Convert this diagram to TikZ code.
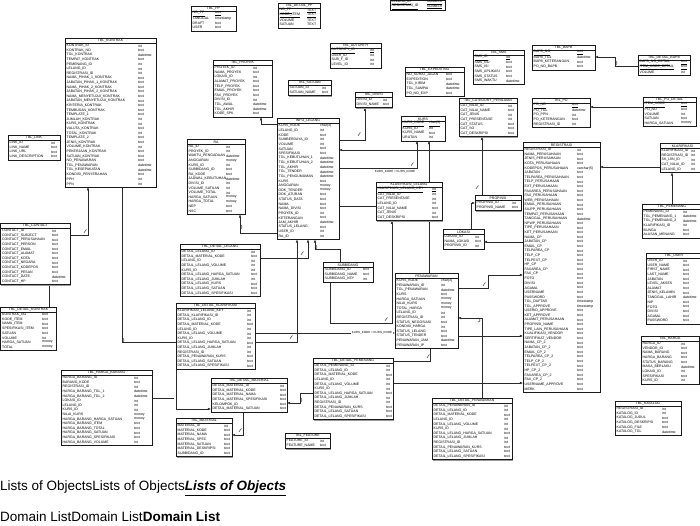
\documentclass[tikz,border=0pt]{standalone}
\usepackage{fontspec}
\setmainfont{Liberation Sans}
\setsansfont{Liberation Sans}
\usetikzlibrary{arrows.meta, calc, positioning}
\pgfdeclarelayer{background}
\pgfsetlayers{background,main}
\definecolor{FrameInk}{HTML}{1a1a1a}
\definecolor{ShadowGrey}{HTML}{9a9a9a}
\definecolor{LinkInk}{HTML}{2a2a2a}
\catcode`\_=12
\newcommand{\rowh}{4.6}
\newcommand{\pk}[1]{\underline{#1}}
\tikzset{
  fieldtext/.style={anchor=west, inner sep=0pt, font=\fontsize{3.5}{4}\selectfont},
  titletext/.style={inner sep=0pt, font=\fontsize{3.5}{4}\selectfont},
  tblframe/.style={draw=FrameInk, fill=white, line width=0.6pt, inner sep=0pt, outer sep=0pt},
  link/.style={draw=LinkInk, line width=0.45pt},
  fk/.style={link, -{Latex[length=3.2pt,width=2.6pt]}},
  joinlabel/.style={inner sep=0pt, font=\fontsize{3}{3.5}\selectfont}
}
% name, x, y, width, type column, title, rows
\newcommand{\erbox}[7]{%
  \foreach \fname/\ftype [count=\k] in {#7} {\xdef\nrows{\k}}
  \pgfmathsetmacro{\boxh}{5.5+\nrows*\rowh+1}
  \fill[ShadowGrey] (#2+0.8, #3+0.8) rectangle (#2+#4+0.8, #3+\boxh+0.8);
  \node[tblframe, minimum width=#4, minimum height=\boxh, anchor=north west] (#1) at (#2,#3) {};
  \draw[FrameInk, line width=0.4pt] (#2, #3+5.5) -- (#2+#4, #3+5.5);
  \node[titletext] (#1-title) at (#2+#4/2, #3+2.9) {#6};
  \foreach \fname/\ftype [count=\k] in {#7} {
    \node[fieldtext] (#1-\k) at (#2+1.5, #3+5.5+\k*\rowh-\rowh/2) {\fname};
    \node[fieldtext] (#1-\k-type) at (#5, #3+5.5+\k*\rowh-\rowh/2) {\ftype};
  }
}
% small hop over a crossing line, and the tick beside a link end
\newcommand{\hop}[2]{\draw[link] (#1,#2+2) arc[start angle=-90, end angle=90, radius=2];}
\newcommand{\tick}[2]{\draw[link] (#1-1,#2+1.8) .. controls (#1,#2) .. (#1+1.4,#2-1.6);}
\begin{document}
\begin{tikzpicture}[x=1pt, y=-1pt]
\useasboundingbox (0,0) rectangle (700,525);
\begin{pgfonlayer}{background}
\fill[white] (0,0) rectangle (700,525);
\end{pgfonlayer}

% top row
\erbox{pp}{191}{6}{45}{215}{TBL_PP}{\pk{NO_PP}/\pk{text}, TANGGAL/timestamp, DRAFT/text, USER/text}
\erbox{detailpp}{278}{3}{42}{307}{TBL_DETAIL_PP}{\pk{NO_PP}/\pk{TEXT}, \pk{KODE_ITEM}/\pk{TEXT}, VOLUME/TEXT, SATUAN/TEXT}
\erbox{lelangreg}{390}{-5.5}{55}{427}{}{\pk{LELANG_ID}/\pk{NUMBER}, \pk{REGISTRASI_ID}/\pk{NUMBER}}
\erbox{autority}{330}{43}{51}{370}{TBL_AUTORITY}{\pk{AUTORITY_ID}/\pk{int}, USER_ID/int, SUB_F_ID/int, LEVEL_ID/int}
\erbox{proyek}{213}{60}{59}{253}{TBL_PROYEK}{PROYEK_ID/int, NAMA_PROYEK/text, LOKASI_ID/int, ALAMAT_PROYEK/text, TELP_PROYEK/text, EMAIL_PROYEK/text, FAX_PROYEK/text, DIVISI_ID/int, TGL_AWAL/datetime, TGL_AKHIR/datetime, KODE_SPK/text}
\erbox{satuan}{288}{80}{43}{322}{TBL_SATUAN}{SATUAN_ID/int, SATUAN_NAME/text}
\erbox{divisi}{355}{92}{37}{383}{TBL_DIVISI}{DIVISI_ID/int, DIVISI_NAME/text}
\erbox{expediting}{405}{67}{59}{446}{TBL_EXPEDITING}{NO_SURAT_JALAN/text, EXPEDITION/text, TGL_KIRIM/datetime, TGL_SAMPAI/datetime, PO_NO_EXP/text}
\erbox{sms}{473}{50}{51}{506}{TBL_SMS}{\pk{SMS_ID}/\pk{int}, SMS_NO/text, SMS_ISI/text, SMS_APLIKASI/text, SMS_STATUS/text, SMS_WAKTU/datetime}
\erbox{category}{459}{98}{58}{508}{TBL_CATEGORY_PENILAIAN}{CAT_NILAI_ID/int, CAT_NILAI_NAME/text, CAT_JENIS/int, CAT_PRESENTASE/int, CAT_STATUS/text, CAT_SO/text, CAT_DESKRIPSI/text}
\erbox{kurs}{401}{116}{44}{429}{KURS}{\pk{KURS_KODE}/\pk{char(3)}, KURS_ID/int, KURS_NAME/text, URUTAN/int}
\erbox{bapb}{532}{45}{63}{577}{TBL_BAPB}{\pk{BAPB_NO}/\pk{text}, BAPB_TGL/datetime, BAPB_KETERANGAN/text, PO_NO_BAPB/text}
\erbox{detailbapb}{638}{55}{52}{681}{TBL_DETAIL_BAPB}{\pk{BAPB_NO_DETAIL}/\pk{text}, \pk{ITEM_KODE_DETAIL}/\pk{text}, VOLUME/int}
\erbox{po}{532}{98}{58}{572}{TBL_PO}{\pk{PO_NO}/\pk{text}, PO_TGL/datetime, PO_PPN/int, PO_KETERANGAN/text, REGISTRASI_ID/int}
\erbox{podetail}{643}{97}{53}{681}{TBL_PO_DETAIL}{\pk{ITEM_KODE}/\pk{text}, PO_NO/text, VOLUME/int, SATUAN/text, HARGA_SATUAN/money}

% left column
\erbox{kontrak}{65}{38}{91}{138}{TBL_KONTRAK}{KONTRAK_ID/int, KONTRAK_NO/text, TGL_KONTRAK/datetime, TEMPAT_KONTRAK/text, PEMENANG_ID/int, LELANG_ID/int, REGISTRASI_ID/int, NAMA_PIHAK_1_KONTRAK/text, JABATAN_PIHAK_1_KONTRAK/text, NAMA_PIHAK_2_KONTRAK/text, JABATAN_PIHAK_2_KONTRAK/text, NAMA_MENYETUJUI_KONTRAK/text, JABATAN_MENYETUJUI_KONTRAK/text, KRITERIA_KONTRAK/text, TEMBUSAN_KONTRAK/text, TEMPLATE_1/text, JUMLAH_KONTRAK/int, KURS_KONTRAK/int, VALUTA_KONTRAK/text, TOTAL_KONTRAK/int, TEMPLATE_2/text, JENIS_KONTRAK/text, VOLUME_KONTRAK/int, PEKERJAAN_KONTRAK/text, SATUAN_KONTRAK/text, NO_PENAWARAN/text, TGL_PENAWARAN/datetime, TGL_KESEPAKATAN/datetime, KONDISI_PENYERAHAN/text, PPH/int, PPN/int}
\erbox{link}{8}{135}{52}{51}{TBL_LINK}{LINK_ID/int, LINK_NAME/text, LINK_URL/text, LINK_DESCRIPTION/text}
\erbox{contact}{0.5}{223}{70}{52}{TBL_CONTACT}{CONTACT_ID/int, CONTACT_SUBJECT/text, CONTACT_PERUSAHAAN/text, CONTACT_PERSON/text, CONTACT_EMAIL/text, CONTACT_ALAMAT/text, CONTACT_KOTA/text, CONTACT_NEGARA/text, CONTACT_KODEPOS/text, CONTACT_PESAN/text, CONTACT_DATE/datetime, CONTACT_HP/text}
\erbox{detailkontrak}{0.5}{307}{56}{42}{TBL_DETAIL_KONTRAK}{KONTRAK_NO/text, KODE_ITEM/text, NAMA_ITEM/text, SPESIFIKASI_ITEM/text, SATUAN/text, VOLUME/int, HARGA_SATUAN/money, TOTAL/money}
\erbox{hargabarang}{61}{370}{91}{134}{TBL_HARGA_BARANG}{HARGA_BARANG_ID/int, BARANG_KODE/text, REGISTRASI_ID/int, HARGA_BARANG_TGL_1/datetime, HARGA_BARANG_TGL_2/datetime, LOKASI_ID/int, LELANG_ID/int, KURS_ID/int, NILAI_KURS/money, HARGA_BARANG_HARGA_SATUAN/money, HARGA_BARANG_ITEM/text, HARGA_BARANG_TOTAL/text, HARGA_BARANG_SATUAN/text, HARGA_BARANG_SPESIFIKASI/text, HARGA_BARANG_VOLUME/int}

% middle
\erbox{infolelang}{277}{118}{62}{320}{INFO_LELANG}{KURS_KODE/char(3), LELANG_ID/int, KODE/text, SUMBERDAYA_ID/int, VOLUME/int, SATUAN/text, SPESIFIKASI/text, TGL_KEBUTUHAN_1/datetime, TGL_KEBUTUHAN_2/datetime, TGL_AKHIR/datetime, TGL_TENDER/datetime, TGL_PENGUMUMAN/datetime, KURS/text, ANGGARAN/money, DOK_TENDER/money, DOK_ATURAN/text, STATUS_DATA/text, NAMA/text, NAMA_DIVISI/text, PROYEK_ID/int, KETERANGAN/text, JAM_AKHIR/datetime, STATUS_LELANG/text, USER_ID/int, RA_ID/int}
\erbox{ra}{187}{139}{58}{226}{RA}{RA_ID/int, PROYEK_ID/int, WAKTU_PENGADAAN/datetime, ANGGARAN/money, KURS_ID/int, SUBBIDANG_ID/text, RA_KODE/text, JADWAL_KEBUTUHAN/datetime, DIVISI_ID/int, VOLUME_SATUAN/int, VOLUME_TOTAL/int, HARGA_SATUAN/money, HARGA_TOTAL/money, NEP/text, NSC/text}
\erbox{detaillelang}{180}{244}{80}{251}{TBL_DETAIL_LELANG}{DETAIL_LELANG_ID/int, DETAIL_MATERIAL_KODE/text, LELANG_ID/int, DETAIL_LELANG_VOLUME/int, KURS_ID/int, DETAIL_LELANG_HARGA_SATUAN/text, DETAIL_LELANG_JUMLAH/int, DETAIL_LELANG_KURS/text, DETAIL_LELANG_SATUAN/text, DETAIL_LELANG_SPESIFIKASI/text}
\erbox{detailklar}{176}{303}{79}{247}{TBL_DETAIL_KLARIFIKASI}{KLARIFIKASI_LELANG_KEY/int, DETAIL_KLARIFIKASI_ID/int, DETAIL_LELANG_ID/int, DETAIL_MATERIAL_KODE/text, LELANG_ID/int, DETAIL_LELANG_VOLUME/int, KURS_ID/int, DETAIL_LELANG_HARGA_SATUAN/text, DETAIL_LELANG_JUMLAH/int, REGISTRASI_ID/int, DETAIL_PENAWARAN_KURS/text, DETAIL_LELANG_SATUAN/text, DETAIL_LELANG_SPESIFIKASI/text}
\erbox{subbidang}{323}{262}{50}{363}{SUBBIDANG}{SUBBIDANG_ID/text, SUBBIDANG_NAME/text, SUBBIDANG_KEY/int}
\erbox{klasifikasi}{376}{182}{66}{432}{KLASIFIKASI_LELANG}{\pk{KLASIFIKASI_LELANG_KEY}/\pk{int}, CAT_NILAI_ID/int, CAT_PRESENTASE/int, LELANG_ID/int, CAT_NILAI_NAME/text, CAT_JENIS/int, CAT_DESKRIPSI/text}
\erbox{propinsi}{475}{195}{46}{512}{PROPINSI}{PROPINSI_ID/int, PROPINSI_NAME/text}
\erbox{lokasi}{443}{229}{41}{475}{LOKASI}{LOKASI_ID/int, NAMA_LOKASI/text, PROPINSI_ID/int}
\erbox{penawaran}{395}{273}{63}{441}{PENAWARAN}{KURS_KODE/char(3), PENAWARAN_ID/int, TGL_PENAWARAN/datetime, KURS/text, HARGA_SATUAN/money, NILAI_KURS/money, TOTAL_HARGA/money, LELANG_ID/int, REGISTRASI_ID/int, STATUS_NEGOSIASI/text, KONDISI_HARGA/int, STATUS_LELANG/text, STATUS_TENDER/text, PENAWARAN_JAM/datetime, PENAWARAN_IP/text}
\erbox{detailpemenang}{313}{358}{80}{386}{TBL_DETAIL_PEMENANG}{DETAIL_PEMENANG_ID/int, DETAIL_LELANG_ID/int, DETAIL_MATERIAL_KODE/text, LELANG_ID/int, DETAIL_LELANG_VOLUME/int, KURS_ID/int, DETAIL_LELANG_HARGA_SATUAN/text, DETAIL_LELANG_JUMLAH/int, REGISTRASI_ID/int, DETAIL_PENAWARAN_KURS/text, DETAIL_LELANG_SATUAN/text, DETAIL_LELANG_SPESIFIKASI/text}
\erbox{detailpenawaran}{432}{398}{80}{504}{TBL_DETAIL_PENAWARAN}{DETAIL_PENAWARAN_ID/int, DETAIL_LELANG_ID/int, DETAIL_MATERIAL_KODE/text, LELANG_ID/int, DETAIL_LELANG_VOLUME/int, KURS_ID/int, DETAIL_LELANG_HARGA_SATUAN/text, DETAIL_LELANG_JUMLAH/int, REGISTRASI_ID/int, DETAIL_PENAWARAN_KURS/text, DETAIL_LELANG_SATUAN/text, DETAIL_LELANG_SPESIFIKASI/text}
\erbox{detailmaterial}{211}{378}{76}{280}{TBL_DETAIL_MATERIAL}{DETAIL_MATERIAL_ID/int, DETAIL_MATERIAL_KODE/text, DETAIL_MATERIAL_NAMA/text, DETAIL_MATERIAL_SPESIFIKASI/text, KELOMPOK_ID/text, DETAIL_MATERIAL_SATUAN/text}
\erbox{material}{176}{418}{56}{224}{TBL_MATERIAL}{MATERIAL_ID/int, MATERIAL_KODE/text, MATERIAL_NAMA/text, MATERIAL_SPEC/text, MATERIAL_SATUAN/text, MATERIAL_DESKRIPSI/text, SUBBIDANG_ID/text}
\erbox{feature}{285}{433}{45}{320}{TBL_FEATURE}{FEATURE_ID/int, FEATURE_NAME/text}

% right column
\erbox{registrasi}{523}{142}{77}{577}{REGISTRASI}{REGISTRASI_ID/int, NAMA_PERUSAHAAN/text, JENIS_PERUSAHAAN/text, KOTA_PERUSAHAAN/text, KODEPOS_PERUSAHAAN/varchar(5), JABATAN/text, TELPAREA_PERUSAHAAN/text, TELP_PERUSAHAAN/text, EXT_PERUSAHAAN/text, FAXAREA_PERUSAHAAN/text, FAX_PERUSAHAAN/text, WEB_PERUSAHAAN/text, EMAIL_PERUSAHAAN/text, SIUPP_PERUSAHAAN/text, TEMPAT_PERUSAHAAN/text, TANGGAL_PERUSAHAAN/datetime, NPWP_PERUSAHAAN/text, TIPE_PERUSAHAAN/text, KET_PERUSAHAAN/text, NAMA_CP/text, JABATAN_CP/text, EMAIL_CP/text, TELPAREA_CP/text, TELP_CP/text, TELPEXT_CP/text, HP_CP/text, FAXAREA_CP/text, FAX_CP/text, FOTO/text, DIVISI/text, AGAMA/text, USERNAME/text, PASSWORD/text, TGL_DAFTAR/timestamp, TGL_APPROVE/timestamp, USERID_APPROVE/text, KET_APPROVE/text, ALAMAT_PERUSAHAAN/text, PROPINSI_NAME/text, TIPE_LAIN_PERUSAHAAN/text, KUALIFIKASI_VENDOR/text, SERTIFIKAT_VENDOR/text, NAMA_CP_2/text, JABATAN_CP_2/text, EMAIL_CP_2/text, TELPAREA_CP_2/text, TELP_CP_2/text, TELPEXT_CP_2/text, HP_CP_2/text, FAXAREA_CP_2/text, FAX_CP_2/text, USERNAME_APPROVE/text, MERK/text}
\erbox{klarifikasi}{660}{143}{45}{691}{KLARIFIKASI}{KLARIFIKASI_ID/int, REGISTRASI_ID/int, SK_IJIN_ID/int, CAT_NILAI_ID/int, LELANG_ID/int}
\erbox{pemenang}{642}{204}{60}{683}{TBL_PEMENANG}{PEMENANG_ID/int, TGL_PEMENANG_1/datetime, TGL_PEMENANG_2/datetime, KLARIFIKASI_ID/int, BUNGA/text, ALASAN_MENANG/text}
\erbox{user}{646}{253}{56}{683}{TBL_USER}{USER_ID/int, USER_NAME/text, FIRST_NAME/text, LAST_NAME/text, JABATAN/text, LEVEL_AKSES/text, ALAMAT/text, JENIS_KELAMIN/text, TANGGAL_LAHIR/datetime, NIP/text, FOTO/text, DIVISI/text, AGAMA/text, PASSWORD/text}
\erbox{harga}{641}{336}{58}{681}{TBL_HARGA}{HARGA_ID/int, VENDOR_ID/text, NAMA_BARANG/text, HARGA_BARANG/text, STATUS_BARANG/text, MASA_BERLAKU/datetime, LOKASI_ID/int, SPESIFIKASI/text, KURS_ID/int}
\erbox{katalog}{615}{401}{66}{662}{TBL_KATALOG}{REGISTRASI_ID/int, KATALOG_ID/int, KATALOG_JUDUL/text, KATALOG_DESKRIPSI/text, KATALOG_FILE/text, KATALOG_TGL/datetime}

% references, kept under the tables
\begin{pgfonlayer}{background}
\coordinate (b-contact) at (88,235);
\draw[fk] (contact.east |- b-contact) -- (b-contact) -- (kontrak.south -| b-contact);
\tick{85}{231}
\coordinate (b-ck) at (49,0);
\draw[link] (contact.south -| b-ck) -- (detailkontrak.north -| b-ck);
\coordinate (b-k1) at (122,342);
\coordinate (b-k2) at (176,409);
\draw[fk] (kontrak.south -| b-k1) -- (b-k1) -| (b-k2) -- (detailmaterial.west |- b-k2);
\hop{122}{336}
\coordinate (b-hb) at (174,398);
\draw[link] (hargabarang.east |- b-hb) -- (b-hb);
\coordinate (b-dm) at (243,435);
\draw[fk] (detailmaterial.south -| b-dm) -- (b-dm) -- (material.east |- b-dm);
\tick{240}{430}
\coordinate (b-dp1) at (300,393);
\coordinate (b-dp2) at (300,403);
\draw[fk] (detailpemenang.west |- b-dp1) -- (b-dp1) -- (b-dp2) -- (detailmaterial.east |- b-dp2);
\hop{300}{396}
\coordinate (b-ra) at (240,233);
\draw[fk] (infolelang.west |- b-ra) -- (b-ra) -- (ra.south -| b-ra);
\hop{240}{223}
\coordinate (b-pr) at (261,124);
\draw[fk] (infolelang.west |- b-pr) -- (b-pr) -- (proyek.south -| b-pr);
\coordinate (b-dv) at (365,140);
\draw[fk] (infolelang.east |- b-dv) -- (b-dv) -- (divisi.south -| b-dv);
\tick{359}{134}
\coordinate (b-ku) at (417,168);
\draw[fk] (infolelang.east |- b-ku) -- (b-ku) -- (kurs.south -| b-ku);
\tick{412}{164}
\node[joinlabel] (lbl-ku) at (395,172) {KURS_KODE = KURS_KODE};
\coordinate (b-rg) at (0,150);
\draw[fk] (registrasi.west |- b-rg) -- (infolelang.east |- b-rg);
\coordinate (b-ku2) at (429,0);
\draw[fk] (penawaran.north -| b-ku2) -- (kurs.south -| b-ku2);
\coordinate (b-ca) at (482,0);
\draw[fk] (propinsi.north -| b-ca) -- (category.south -| b-ca);
\tick{477}{187}
\coordinate (b-kl1) at (392,323);
\coordinate (b-kl2) at (330,323);
\draw[fk] (subbidang.south -| b-kl2) -- (b-kl2) -- (b-kl1) -- (klasifikasi.south -| b-kl1);
\tick{386}{319}
\coordinate (b-lp) at (471,203);
\draw[fk] (lokasi.north -| b-lp) -- (b-lp) -- (propinsi.west |- b-lp);
\coordinate (b-rl) at (0,242);
\draw[fk] (registrasi.west |- b-rl) -- (lokasi.east |- b-rl);
\coordinate (b-pw1) at (488,288);
\coordinate (b-pw2) at (488,275);
\draw[fk] (penawaran.east |- b-pw1) -- (b-pw1) -- (b-pw2) -- (registrasi.west |- b-pw2);
\tick{484}{284}
\coordinate (b-pw3) at (0,336);
\draw[fk] (penawaran.east |- b-pw3) -- (registrasi.west |- b-pw3);
\coordinate (b-dpw) at (482,318);
\draw[fk] (detailpenawaran.north -| b-dpw) -- (b-dpw) -- (penawaran.east |- b-dpw);
\hop{478}{316}
\coordinate (b-dpm) at (0,383);
\draw[fk] (detailpemenang.east |- b-dpm) -- (registrasi.west |- b-dpm);
\coordinate (b-pn) at (430,361);
\draw[link] (detailpemenang.east |- b-pn) -- (b-pn) -- (penawaran.south -| b-pn);
\tick{428}{356}
\coordinate (b-kr) at (0,167);
\draw[fk] (klarifikasi.west |- b-kr) -- (registrasi.east |- b-kr);
\coordinate (b-pk) at (672,0);
\draw[fk] (pemenang.north -| b-pk) -- (klarifikasi.south -| b-pk);
\coordinate (b-bp1) at (615,66);
\coordinate (b-bp2) at (615,57);
\draw[fk] (detailbapb.west |- b-bp1) -- (b-bp1) -- (b-bp2) -- (bapb.east |- b-bp2);
\hop{615}{59}
\coordinate (b-po) at (0,107);
\draw[fk] (podetail.west |- b-po) -- (po.east |- b-po);
\coordinate (b-dl) at (308,258);
\draw[fk] (detaillelang.east |- b-dl) -- (b-dl) -- (infolelang.south -| b-dl);
\tick{302}{253}
\coordinate (b-dk1) at (297,342);
\draw[fk] (detailklar.east |- b-dk1) -- (b-dk1) -- (infolelang.south -| b-dk1);
\tick{291}{337}
\coordinate (b-sb1) at (315,249);
\coordinate (b-sb2) at (340,249);
\draw[fk] (subbidang.north -| b-sb2) -- (b-sb2) -- (b-sb1) -- (infolelang.south -| b-sb1);
\hop{315}{243}
\coordinate (b-dk) at (0,333);
\draw[fk] (detailklar.east |- b-dk) -- (penawaran.west |- b-dk);
\node[joinlabel, fill=white, inner sep=0.3pt] (lbl-dk) at (372,333) {KURS_KODE = KURS_KODE};
\coordinate (b-kla) at (0,206);
\draw[link] (infolelang.east |- b-kla) -- (klasifikasi.west |- b-kla);
\end{pgfonlayer}

% lists
\node[anchor=west, inner sep=0pt, font=\fontsize{13.5}{16}\selectfont] (lists) at (0,488)
  {Lists of ObjectsLists of Objects\textbf{\textit{\underline{Lists of Objects}}}};
\node[anchor=west, inner sep=0pt, font=\fontsize{13.5}{16}\selectfont] (domains) at (0,517)
  {Domain ListDomain List\textbf{Domain List}};
\end{tikzpicture}
\end{document}
